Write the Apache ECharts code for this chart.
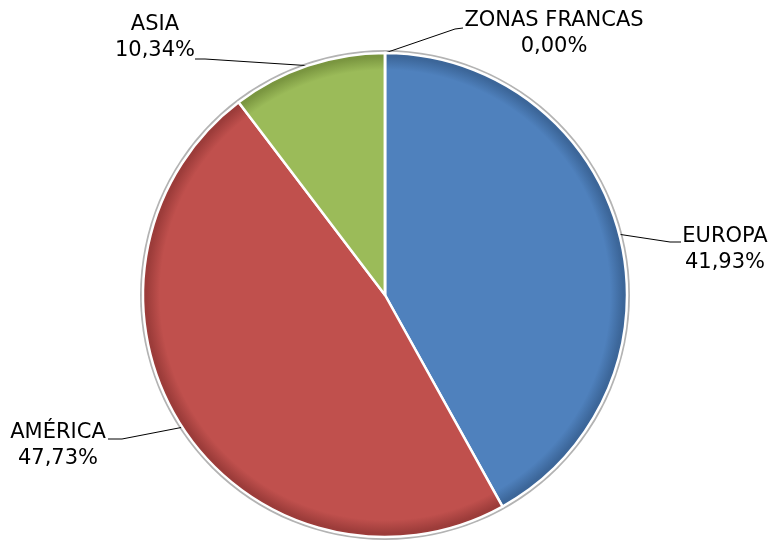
<!DOCTYPE html>
<html>
<head>
<meta charset="utf-8">
<script src="https://cdn.jsdelivr.net/npm/echarts@6/dist/echarts.min.js"></script>
<style>html,body{margin:0;padding:0;background:#fff}#c{width:773px;height:543px}</style>
</head>
<body>
<div id="c"></div>
<script>
const categories = ['EUROPA', 'AMÉRICA', 'ASIA', 'ZONAS FRANCAS'];
const shares = [41.93, 47.73, 10.34, 0.00];
const colors = ['#4F81BD', '#C0504D', '#9BBB59', '#8064A2'];
const edgeColors = ['#3C6699', '#9C3C3A', '#7A9640', '#634C80'];

const CX = 385, CY = 295, R = 242;

// label centre + line elbow/end offsets (relative to label centre)
const labelPlace = [
  { c: [725, 250], mid: [-55, -8], end: [-44, -8] },
  { c: [58, 446], mid: [64, -7], end: [50, -7] },
  { c: [155, 38], mid: [50, 21], end: [40, 21] },
  { c: [554, 34], mid: [-99, -5], end: [-91, -6] }
];

function shade(i) {
  return {
    type: 'radial', x: CX, y: CY, r: R, global: true,
    colorStops: [
      { offset: 0, color: colors[i] },
      { offset: 0.93, color: colors[i] },
      { offset: 0.985, color: edgeColors[i] },
      { offset: 1, color: edgeColors[i] }
    ]
  };
}

const chart = echarts.init(document.getElementById('c'));
chart.setOption({
  animation: false,
  series: [
    {
      type: 'pie',
      silent: true,
      center: [CX, CY],
      radius: R + 3,
      startAngle: 90,
      z: 1,
      label: { show: false },
      labelLine: { show: false },
      itemStyle: { borderWidth: 0 },
      data: [{ value: 1, itemStyle: { color: '#b3b3b3' } }]
    },
    {
      type: 'pie',
      center: [CX, CY],
      radius: R,
      startAngle: 90,
      clockwise: true,
      z: 2,
      itemStyle: {
        borderColor: '#ffffff',
        borderWidth: 2.5
      },
      label: {
        show: true,
        color: '#000',
        fontSize: 21,
        fontFamily: 'DejaVu Sans',
        lineHeight: 26,
        overflow: 'none',
        formatter: p => p.name + '\n' + p.value.toFixed(2).replace('.', ',') + '%'
      },
      labelLine: {
        show: true,
        length: 20,
        length2: 20,
        lineStyle: { color: '#000', width: 1 }
      },
      labelLayout: function (p) {
        const L = labelPlace[p.dataIndex];
        const s = p.labelLinePoints ? p.labelLinePoints[0] : [CX, CY - R];
        return {
          x: L.c[0], y: L.c[1], align: 'center', verticalAlign: 'middle',
          labelLinePoints: [
            s,
            [L.c[0] + L.mid[0], L.c[1] + L.mid[1]],
            [L.c[0] + L.end[0], L.c[1] + L.end[1]]
          ]
        };
      },
      data: categories.map((n, i) => ({
        name: n, value: shares[i],
        itemStyle: { color: shade(i) }
      }))
    }
  ]
});
</script>
</body>
</html>
